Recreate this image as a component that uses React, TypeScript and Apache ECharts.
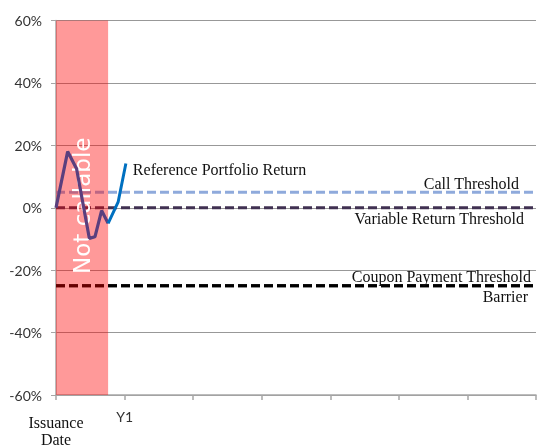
import React, { useEffect, useRef } from "react";
import * as echarts from "echarts";

// x positions in years from issuance, y in %
const portfolioX = [0, 0.17, 0.3, 0.486, 0.568, 0.665, 0.76];
const portfolioY = [0, 18, 12.5, -9.8, -9.3, -0.9, -5];
const referenceX = [0.76, 0.907, 1.019];
const referenceY = [-5, 1.9, 14.2];

const callThreshold = 5;
const variableReturnThreshold = 0;
const couponThreshold = -25;
const barrierLevel = -25;
const notCallableEnd = 0.76;

const yTicks = { min: -60, max: 60, step: 20 };
const xTicks = { min: 0, max: 7, step: 1 };
const xTickLabels: Record<number, string> = { 0: "Issuance\nDate", 1: "Y1" };

const serif = "Liberation Serif";
const sans = "Lato";

export default function App() {
  const ref = useRef<HTMLDivElement>(null);
  useEffect(() => {
    if (!ref.current) return;
    const chart = echarts.init(ref.current, undefined, { renderer: "svg" });
    const pts = (xs: number[], ys: number[]) => xs.map((x, i) => [x, ys[i]]);
    const labelBase = { fontFamily: serif, fontSize: 16, color: "#111", opacity: 1 };
    const dashed = (color: string) => ({ color, width: 3, type: [9, 4] as number[] });
    const flat = (v: number) => [[xTicks.min, v], [xTicks.max, v]];
    const thresholdSeries = (name: string, value: number, color: string, labels: any[]) => ({
      name,
      type: "line",
      data: flat(value),
      z: 2,
      symbol: "none",
      lineStyle: dashed(color),
      markLine: {
        silent: true,
        symbol: "none",
        z: 6,
        lineStyle: { color: "rgba(0,0,0,0)", width: 1 },
        data: labels.map((l) => ({ yAxis: value, label: { ...labelBase, ...l } })),
      },
    });
    chart.setOption({
      animation: false,
      grid: { left: 56, right: 2, top: 20.5, bottom: 52, outerBoundsMode: "none", containLabel: false },
      xAxis: {
        type: "value",
        min: xTicks.min,
        max: xTicks.max,
        interval: xTicks.step,
        axisLine: { show: true, onZero: false, lineStyle: { color: "#A6A6A6", width: 1.5 } },
        axisTick: { show: true, length: 5, lineStyle: { color: "#A6A6A6", width: 1.5 } },
        splitLine: { show: false },
        axisLabel: {
          margin: 14,
          formatter: (v: number) => {
            const t = xTickLabels[v];
            if (!t) return "";
            if (v === 0) {
              const [a, b] = t.split("\n");
              return `{d1|${a}}\n{d|${b}}`;
            }
            return `{y|${t}}`;
          },
          rich: {
            d1: { fontFamily: serif, fontSize: 16, lineHeight: 19, color: "#111", padding: [8, 0, 0, 0] },
            d: { fontFamily: serif, fontSize: 16, lineHeight: 22, color: "#111" },
            y: { fontFamily: sans, fontSize: 14, color: "#333" },
          },
        },
      },
      yAxis: {
        type: "value",
        min: yTicks.min,
        max: yTicks.max,
        interval: yTicks.step,
        axisLine: { show: true, lineStyle: { color: "#A6A6A6", width: 1.5 } },
        axisTick: { show: true, length: 5, lineStyle: { color: "#A6A6A6" } },
        splitLine: { show: true, lineStyle: { color: "#989898", width: 1 } },
        axisLabel: {
          formatter: "{value}%",
          fontFamily: sans,
          fontSize: 14,
          color: "#333",
          margin: 14,
        },
      },
      series: [
        thresholdSeries("Call Threshold", callThreshold, "#8FAADC", [
          { formatter: "Call Threshold", position: "insideEndTop", distance: 1, padding: [0, 16, 0, 0] },
        ]),
        thresholdSeries("Variable Return Threshold", variableReturnThreshold, "#403152", [
          { formatter: "Variable Return Threshold", position: "insideEndBottom", distance: 3, padding: [0, 9, 0, 0] },
        ]),
        thresholdSeries("Coupon Payment Threshold", couponThreshold, "#000000", [
          { formatter: "Coupon Payment Threshold", position: "insideEndTop", distance: 1, padding: [0, 4, 0, 0] },
        ]),
        thresholdSeries("Barrier", barrierLevel, "#000000", [
          { formatter: "Barrier", position: "insideEndBottom", distance: 3, padding: [0, 5, 0, 0] },
        ]),
        {
          name: "Not callable",
          type: "line",
          data: [],
          z: 3,
          markArea: {
            silent: true,
            z: 3,
            itemStyle: { color: "rgba(255,0,0,0.4)" },
            label: {
              show: true,
              position: "inside",
              rotate: 90,
              formatter: "Not callable",
              color: "#fff",
              fontFamily: "DejaVu Sans",
              fontSize: 23,
              offset: [2, 0],
            },
            data: [[{ xAxis: 0 }, { xAxis: notCallableEnd }]],
          },
        },
        {
          name: "Portfolio",
          type: "line",
          data: pts(portfolioX, portfolioY),
          z: 4,
          symbol: "none",
          lineStyle: { color: "#5B3F7E", width: 3.2 },
        },
        {
          name: "Reference Portfolio Return",
          type: "line",
          data: pts(referenceX, referenceY),
          z: 4,
          symbol: "none",
          lineStyle: { color: "#0070C0", width: 3 },
          endLabel: {
            show: true,
            formatter: "Reference Portfolio Return",
            ...labelBase,
            distance: 5,
            offset: [2, 6],
          },
        },
      ],
    });
    return () => chart.dispose();
  }, []);
  return <div ref={ref} style={{ position: "fixed", left: 0, top: 0, width: 538, height: 447 }} />;
}
